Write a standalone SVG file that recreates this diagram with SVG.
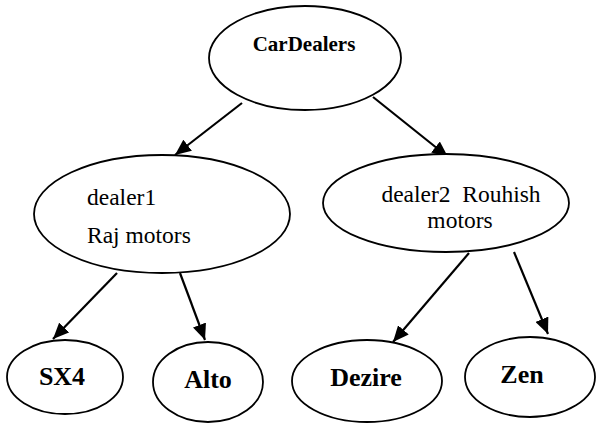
<svg xmlns="http://www.w3.org/2000/svg" width="596" height="424" viewBox="0 0 596 424">
<style>
.node ellipse{fill:#fff;stroke:#000;stroke-width:1.8}
.conn line{stroke:#000;stroke-width:2.2}
text{font-family:"Liberation Serif","Times New Roman",serif;fill:#000}
.b{font-weight:bold}
.r{font-size:23.5px}
</style>
<defs>
<marker id="ah" markerUnits="userSpaceOnUse" markerWidth="17" markerHeight="14" refX="16" refY="7" orient="auto">
<path d="M0,0 L16,7 L0,14 z" fill="#000"/>
</marker>
</defs>
<rect width="596" height="424" fill="#fff"/>
<g id="connectors" class="conn">
<line x1="242" y1="103" x2="175" y2="155" marker-end="url(#ah)"/>
<line x1="373" y1="97" x2="448" y2="157" marker-end="url(#ah)"/>
<line x1="117" y1="273" x2="53" y2="339" marker-end="url(#ah)"/>
<line x1="180" y1="273" x2="205" y2="340" marker-end="url(#ah)"/>
<line x1="469" y1="253" x2="393" y2="342" marker-end="url(#ah)"/>
<line x1="514" y1="252" x2="548" y2="334" marker-end="url(#ah)"/>
</g>
<g id="carDealers" class="node">
<ellipse cx="305" cy="58" rx="96" ry="52"/>
<text class="b" x="304" y="51" font-size="21" text-anchor="middle">CarDealers</text>
</g>
<g id="dealer1" class="node">
<ellipse cx="162" cy="214" rx="128" ry="59"/>
<text class="r" x="87" y="205">dealer1</text>
<text class="r" x="87" y="243">Raj motors</text>
</g>
<g id="dealer2" class="node">
<ellipse cx="446" cy="203" rx="123" ry="49"/>
<text class="r" x="461" y="202" text-anchor="middle" xml:space="preserve" style="white-space:pre">dealer2  Rouhish</text>
<text class="r" x="460" y="228" text-anchor="middle">motors</text>
</g>
<g id="sx4" class="node">
<ellipse cx="65" cy="377" rx="58" ry="37"/>
<text class="b" x="62" y="385" font-size="26" text-anchor="middle">SX4</text>
</g>
<g id="alto" class="node">
<ellipse cx="208" cy="382" rx="55" ry="40"/>
<text class="b" x="208" y="388" font-size="26" text-anchor="middle">Alto</text>
</g>
<g id="dezire" class="node">
<ellipse cx="367" cy="381" rx="75" ry="41"/>
<text class="b" x="366" y="386" font-size="26" text-anchor="middle">Dezire</text>
</g>
<g id="zen" class="node">
<ellipse cx="530" cy="377" rx="65" ry="40"/>
<text class="b" x="522" y="383" font-size="26" text-anchor="middle">Zen</text>
</g>
</svg>
